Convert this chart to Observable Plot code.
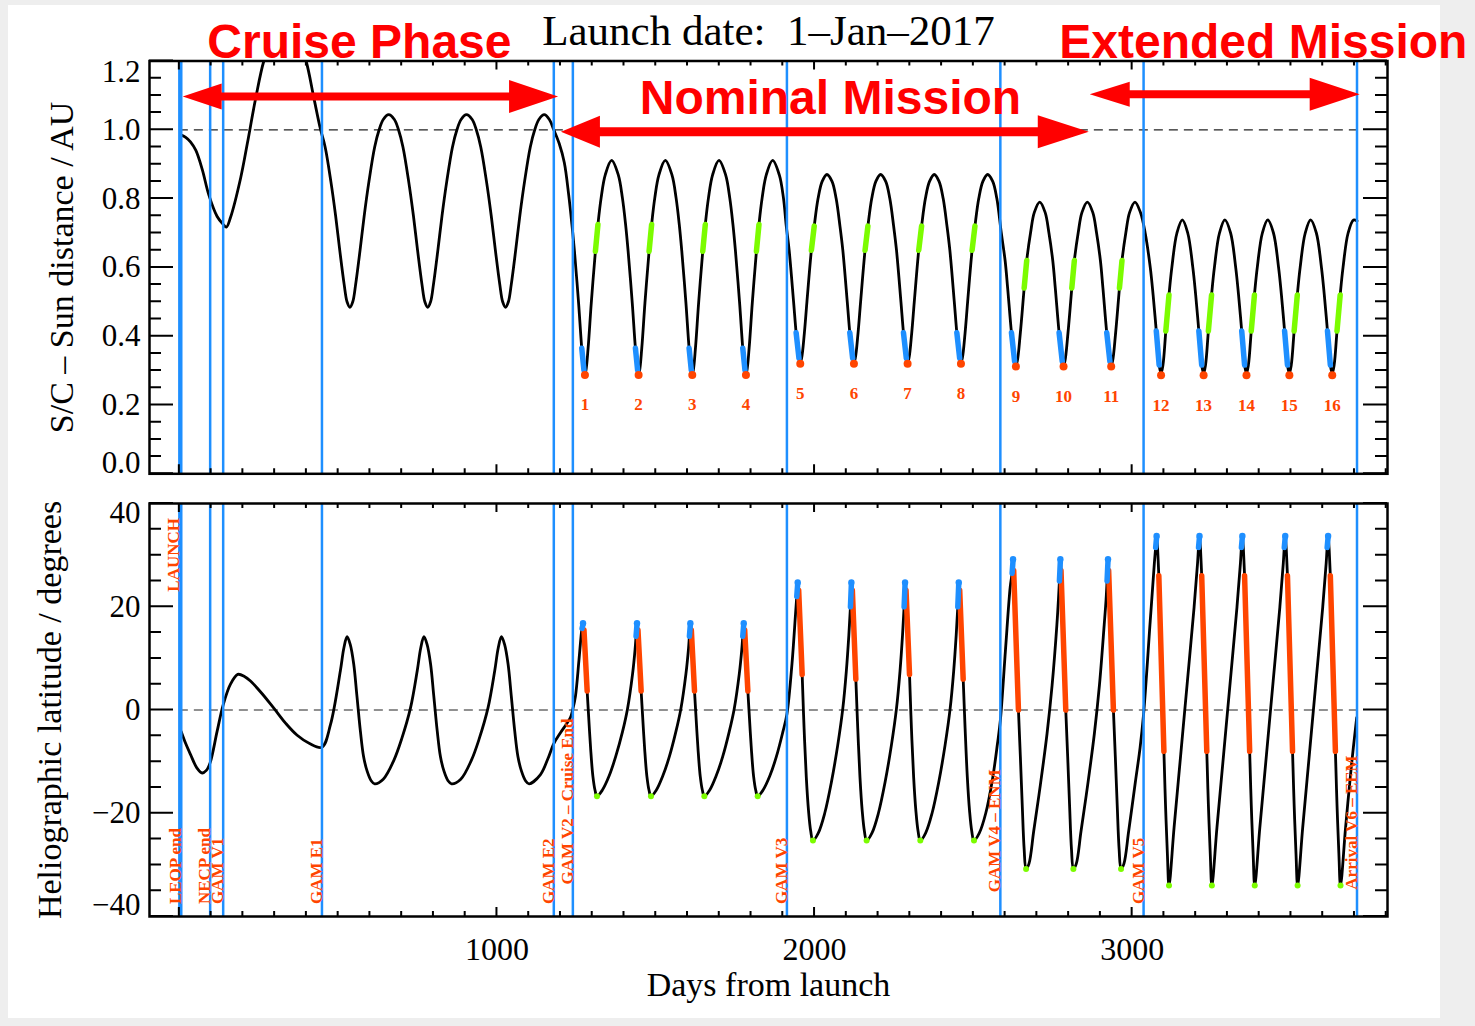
<!DOCTYPE html>
<html>
<head>
<meta charset="utf-8">
<script src="https://cdn.jsdelivr.net/npm/d3@7"></script>
<script src="https://cdn.jsdelivr.net/npm/@observablehq/plot@0.6"></script>
<style>
  html, body { margin: 0; padding: 0; background: #eeeeee; }
  #page { position: relative; width: 1475px; height: 1026px; overflow: hidden; }
  #sheet { position: absolute; left: 8px; top: 5px; width: 1432px; height: 1013px; background: #fff; }
  #top, #bottom { position: absolute; left: 0; width: 1475px; }
  #top { top: 0; }
  #bottom { top: 480px; }
</style>
</head>
<body>
<div id="page"><div id="sheet"></div><div id="top"></div><div id="bottom"></div></div>
<script>
// ---- Mission events (days from launch) ----
const eventNames = ["LAUNCH", "LEOP end", "NECP end", "GAM V1", "GAM E1", "GAM E2",
  "GAM V2 – Cruise End", "GAM V3", "GAM V4 – ENM", "GAM V5", "Arrival V6 – EEM"];
const eventDays = [0, 6, 97, 138, 449, 1179, 1239, 1913, 2585, 3036, 3708];

// ---- Mission phases ----
const phaseNames = ["Cruise Phase", "Nominal Mission", "Extended Mission"];
const phaseStart = [12, 1203, 2868];
const phaseEnd = [1194, 2865, 3718];

// ---- Spacecraft–Sun distance [day, AU] ----
const distancePoints = [
  [6,0.985],[20,0.978],[35,0.965],[52,0.94],[72,0.885],[93,0.81],[119,0.748],[138,0.725],[148,0.717],[161,0.745],
  [193,0.86],[214,0.96],[240,1.09],[266,1.2],[300,1.285],[333,1.31],[366,1.285],[399,1.2],[423,1.095],
  [444,1.003],[459,0.95],[477,0.85],[492,0.75],[505,0.65],[519,0.55],[528,0.50],[537,0.484],[546,0.50],
  [555,0.55],[569,0.65],[582,0.75],[597,0.85],[615,0.95],[629,1.0],[642,1.03],[659,1.044],[677,1.03],
  [690,1.0],[704,0.95],[722,0.85],[737,0.75],[750,0.65],[764,0.55],[773,0.50],[782,0.484],[791,0.50],
  [800,0.55],[814,0.65],[827,0.75],[842,0.85],[860,0.95],[874,1.0],[887,1.03],[904,1.044],[922,1.03],
  [935,1.0],[949,0.95],[967,0.85],[982,0.75],[995,0.65],[1009,0.55],[1018,0.50],[1027,0.484],[1036,0.50],
  [1045,0.55],[1059,0.65],[1072,0.75],[1087,0.85],[1105,0.95],[1119,1.0],[1132,1.03],[1149,1.044],
  [1165,1.03],[1179,1.0],[1196,0.96],[1212,0.905],[1226,0.81],
  [1236,0.725],[1244,0.647],[1257,0.497],[1267,0.365],[1274,0.300],[1277,0.293],[1280,0.300],[1287,0.365],
  [1297,0.497],[1310,0.647],[1318,0.725],[1328,0.802],[1341,0.869],[1361,0.911],
  [1382,0.869],[1395,0.802],[1405,0.725],[1413,0.647],[1426,0.497],[1436,0.365],[1443,0.300],[1446,0.293],
  [1449,0.300],[1456,0.365],[1466,0.497],[1479,0.647],[1487,0.725],[1497,0.802],[1510,0.869],[1530,0.911],
  [1551,0.869],[1564,0.802],[1574,0.725],[1582,0.647],[1595,0.497],[1605,0.365],[1612,0.300],[1615,0.293],
  [1618,0.300],[1625,0.365],[1635,0.497],[1648,0.647],[1656,0.725],[1666,0.802],[1679,0.869],[1699,0.911],
  [1720,0.869],[1733,0.802],[1743,0.725],[1751,0.647],[1764,0.497],[1774,0.365],[1781,0.300],[1784,0.293],
  [1787,0.300],[1794,0.365],[1804,0.497],[1817,0.647],[1825,0.725],[1835,0.802],[1848,0.869],[1868,0.911],
  [1889,0.869],[1902,0.802],
  [1911,0.72],[1920,0.65],[1934,0.50],[1942,0.41],[1951,0.335],[1955,0.326],[1959,0.335],[1968,0.41],
  [1976,0.50],[1990,0.65],[1999,0.72],[2011,0.80],[2024,0.85],[2039,0.87],
  [2055,0.85],[2068,0.80],[2080,0.72],[2089,0.65],[2103,0.50],[2111,0.41],[2120,0.335],[2124,0.326],
  [2128,0.335],[2137,0.41],[2145,0.50],[2159,0.65],[2168,0.72],[2180,0.80],[2193,0.85],[2208,0.87],
  [2224,0.85],[2237,0.80],[2249,0.72],[2258,0.65],[2272,0.50],[2280,0.41],[2289,0.335],[2293,0.326],
  [2297,0.335],[2306,0.41],[2314,0.50],[2328,0.65],[2337,0.72],[2349,0.80],[2362,0.85],[2377,0.87],
  [2392,0.85],[2405,0.80],[2417,0.72],[2426,0.65],[2440,0.50],[2448,0.41],[2457,0.335],[2461,0.326],
  [2465,0.335],[2474,0.41],[2482,0.50],[2496,0.65],[2505,0.72],[2517,0.80],[2530,0.85],[2545,0.87],
  [2561,0.85],[2574,0.80],
  [2588,0.70],[2600,0.62],[2608,0.54],[2620,0.41],[2630,0.326],[2634,0.318],[2638,0.326],[2648,0.41],
  [2660,0.54],[2668,0.62],[2680,0.70],[2692,0.76],[2709,0.79],
  [2726,0.76],[2738,0.70],[2750,0.62],[2758,0.54],[2770,0.41],[2780,0.326],[2784,0.318],[2788,0.326],
  [2798,0.41],[2810,0.54],[2818,0.62],[2830,0.70],[2842,0.76],[2859,0.79],
  [2876,0.76],[2888,0.70],[2900,0.62],[2908,0.54],[2920,0.41],[2930,0.326],[2934,0.318],[2938,0.326],
  [2948,0.41],[2960,0.54],[2968,0.62],[2980,0.70],[2992,0.76],[3009,0.79],
  [3026,0.76],
  [3041,0.70],[3057,0.60],[3066,0.52],[3076,0.415],[3085,0.316],[3091,0.292],[3097,0.316],[3106,0.415],
  [3116,0.52],[3125,0.60],[3141,0.70],[3158,0.738],
  [3175,0.70],[3191,0.60],[3200,0.52],[3210,0.415],[3219,0.316],[3225,0.292],[3231,0.316],[3240,0.415],
  [3250,0.52],[3259,0.60],[3275,0.70],[3292,0.738],
  [3310,0.70],[3326,0.60],[3335,0.52],[3345,0.415],[3354,0.316],[3360,0.292],[3366,0.316],[3375,0.415],
  [3385,0.52],[3394,0.60],[3410,0.70],[3427,0.738],
  [3445,0.70],[3461,0.60],[3470,0.52],[3480,0.415],[3489,0.316],[3495,0.292],[3501,0.316],[3510,0.415],
  [3520,0.52],[3529,0.60],[3545,0.70],[3562,0.738],
  [3580,0.70],[3596,0.60],[3605,0.52],[3615,0.415],[3624,0.316],[3630,0.292],[3636,0.316],[3645,0.415],
  [3655,0.52],[3664,0.60],[3680,0.70],[3697,0.738],[3708,0.735]
];

// Perihelion passes (days) and highlighted arcs of the distance curve [from, to]
const periDays = [1277,1446,1615,1784,1955,2124,2293,2461,2634,2784,2934,3091,3225,3360,3495,3630];
const inboundArcs = [[1267,1274],[1436,1443],[1605,1612],[1774,1781],[1942,1951],[2111,2120],[2280,2289],
  [2448,2457],[2620,2630],[2770,2780],[2920,2930],[3076,3085],[3210,3219],[3345,3354],[3480,3489],[3615,3624]];
const outboundArcs = [[1310,1318],[1479,1487],[1648,1656],[1817,1825],[1990,1999],[2159,2168],[2328,2337],
  [2496,2505],[2660,2668],[2810,2818],[2960,2968],[3106,3116],[3240,3250],[3375,3385],[3510,3520],[3645,3655]];

// ---- Heliographic latitude [day, degrees] ----
const latitudePoints = [
  [6,-4.2],[20,-6.5],[35,-8.6],[55,-11.2],[72,-12.2],[85,-11.7],[97,-10.2],[119,-4.1],[138,1.0],[161,5.0],
  [184,6.9],[205,6.5],[224,5.6],[260,3.2],[298,0.3],[335,-2.6],[371,-4.9],[410,-6.5],[449,-7.2],[476,-2.8],
  [507,7.6],[518,12.0],[528,14.2],[538,12.7],[549,8.9],[559,2.8],[570,-4.1],[580,-9.0],[591,-11.8],
  [604,-13.7],[615,-14.3],[642,-13.4],[675,-9.8],[700,-5.6],[728,0.45],[749,7.6],[760,12.0],[770,14.2],
  [780,12.7],[791,8.9],[801,2.8],[812,-4.1],[822,-9.0],[833,-11.8],[846,-13.7],[857,-14.3],[886,-13.4],
  [919,-9.8],[944,-5.6],[972,0.45],[993,7.6],[1004,12.0],[1014,14.2],[1024,12.7],[1035,8.9],[1045,2.8],
  [1056,-4.1],[1066,-9.0],[1077,-11.8],[1090,-13.7],[1101,-14.3],[1137,-12.5],[1160,-9.5],[1179,-6.5],
  [1200,-4.4],[1231,-1.5],[1239,0.2],[1247,2.6],[1258,9.5],[1266,15.0],[1268,15.8],[1271,16.6],
  [1274,15.5],[1284,3.7],[1288,-0.5],[1295,-7.5],[1302,-12.8],[1309,-15.6],[1315,-16.7],
  [1332,-15.5],[1353,-12.8],[1374,-9.0],[1395,-4.3],[1411,0.2],[1427,7.0],[1435,11.8],[1438,14.3],[1441,16.6],
  [1444,15.5],[1454,3.7],[1458,-0.5],[1465,-7.5],[1472,-12.8],[1479,-15.6],[1485,-16.7],
  [1502,-15.5],[1522,-12.8],[1543,-9.0],[1563,-4.3],[1579,0.2],[1595,7.0],[1603,11.8],[1606,14.3],[1609,16.6],
  [1612,15.5],[1622,3.7],[1626,-0.5],[1633,-7.5],[1640,-12.8],[1647,-15.6],[1653,-16.7],
  [1670,-15.5],[1690,-12.8],[1711,-9.0],[1731,-4.3],[1747,0.2],[1763,7.0],[1771,11.8],[1774,14.3],[1777,16.6],
  [1780,15.5],[1790,3.7],[1794,-0.5],[1801,-7.5],[1808,-12.8],[1815,-15.6],[1821,-16.7],
  [1838,-15.5],[1859,-12.8],[1880,-9.0],[1900,-4.3],[1913,-0.8],[1929,9.0],[1940,18.5],[1944,22.0],[1947,24.5],
  [1950,23.2],[1961,6.9],[1967,-3.5],[1974,-13.0],[1981,-19.5],[1988,-23.5],[1995,-25.3],
  [2012,-23.8],[2032,-20.0],[2053,-14.0],[2073,-6.8],[2089,0.3],[2100,7.5],[2108,14.5],[2113,20.0],[2116,24.5],
  [2119,23.2],[2130,6.0],[2136,-3.5],[2143,-13.0],[2150,-19.5],[2157,-23.5],[2164,-25.3],
  [2181,-23.8],[2201,-20.0],[2222,-14.0],[2242,-6.8],[2258,0.3],[2269,7.5],[2277,14.5],[2282,20.0],[2285,24.5],
  [2288,23.2],[2299,6.9],[2305,-3.5],[2312,-13.0],[2319,-19.5],[2326,-23.5],[2333,-25.3],
  [2350,-23.8],[2370,-20.0],[2391,-14.0],[2411,-6.8],[2427,0.3],[2438,7.5],[2446,14.5],[2451,20.0],[2454,24.5],
  [2457,23.2],[2468,6.0],[2474,-3.5],[2481,-13.0],[2488,-19.5],[2495,-23.5],[2502,-25.3],
  [2519,-23.8],[2539,-20.0],[2560,-13.5],[2576,-6.5],[2585,-2.0],[2601,11.5],[2616,23.8],[2622,26.5],[2625,29.0],
  [2627,27.0],[2642,0.0],[2648,-9.0],[2654,-18.5],[2660,-27.0],[2666,-30.8],
  [2675,-29.8],[2690,-23.5],[2711,-14.5],[2732,-4.6],[2748,4.8],[2763,16.5],[2768,21.5],[2771,25.0],[2774,29.0],
  [2776,27.0],[2791,0.0],[2797,-9.0],[2803,-18.5],[2809,-27.0],[2815,-30.8],
  [2824,-29.8],[2839,-23.5],[2860,-14.5],[2881,-4.6],[2897,4.8],[2912,16.5],[2918,21.5],[2921,25.0],[2924,29.0],
  [2926,27.0],[2941,0.0],[2947,-9.0],[2953,-18.5],[2959,-27.0],[2965,-30.8],
  [2974,-29.8],[2989,-23.5],[3010,-14.0],[3025,-7.3],[3036,-0.8],[3057,17.3],[3070,28.5],[3074,31.5],[3077,33.5],
  [3084,26.0],[3100,-8.0],[3105,-18.3],[3111,-28.0],[3116,-34.0],
  [3132,-22.8],[3153,-8.6],[3174,5.6],[3195,19.9],[3206,28.5],[3209,31.5],[3212,33.5],
  [3219,26.0],[3235,-8.0],[3240,-18.3],[3246,-28.0],[3251,-34.0],
  [3267,-22.8],[3288,-8.6],[3309,5.6],[3330,19.9],[3341,28.5],[3344,31.5],[3347,33.5],
  [3354,26.0],[3370,-8.0],[3375,-18.3],[3381,-28.0],[3386,-34.0],
  [3402,-22.8],[3423,-8.6],[3444,5.6],[3465,19.9],[3476,28.5],[3479,31.5],[3482,33.5],
  [3489,26.0],[3505,-8.0],[3510,-18.3],[3516,-28.0],[3521,-34.0],
  [3537,-22.8],[3558,-8.6],[3579,5.6],[3600,19.9],[3611,28.5],[3614,31.5],[3617,33.5],
  [3624,26.0],[3640,-8.0],[3645,-18.3],[3651,-28.0],[3656,-34.0],
  [3672,-22.8],[3690,-11.0],[3707,-1.5]
];

// Latitude maxima / minima (days) and highlighted arcs [from, to]
const latMaxDays = [1271,1441,1609,1777,1947,2116,2285,2454,2625,2774,2924,3077,3212,3347,3482,3617];
const latMinDays = [1315,1485,1653,1821,1995,2164,2333,2502,2666,2815,2965,3116,3251,3386,3521,3656];
const nearMaxArcs = [[1268,1271],[1438,1441],[1606,1609],[1774,1777],[1944,1947],[2113,2116],[2282,2285],
  [2451,2454],[2622,2625],[2771,2774],[2921,2924],[3074,3077],[3209,3212],[3344,3347],[3479,3482],[3614,3617]];
const descentArcs = [[1274,1284],[1444,1454],[1612,1622],[1780,1790],[1950,1961],[2119,2130],[2288,2299],
  [2457,2468],[2627,2642],[2776,2791],[2926,2941],[3084,3100],[3219,3235],[3354,3370],[3489,3505],[3624,3640]];

// ---- Axis ticks and labels ----
const dayTicks = [1000, 2000, 3000];
const dayTickLabels = ["1000", "2000", "3000"];
const distanceTicks = [0, 0.2, 0.4, 0.6, 0.8, 1.0, 1.2];
const distanceTickLabels = ["0.0", "0.2", "0.4", "0.6", "0.8", "1.0", "1.2"];
const latitudeTicks = [-40, -20, 0, 20, 40];
const latitudeTickLabels = ["−40", "−20", "0", "20", "40"];

// ---------------------------------------------------------------------------
const SERIF = "'Liberation Serif', 'Times New Roman', serif";
const SANS = "'Liberation Sans', Arial, sans-serif";
const BLUE = "#1e8fff", ORANGE = "#ff4500", GREEN = "#7cfc00", RED = "#ff0000";
const CURVE = "catmull-rom";
const xDomain = [-94, 3804];

// rows of the curve that fall inside each [from, to] range, tagged by range
function arcRows(points, ranges) {
  return ranges.flatMap(([a, b], seg) =>
    points.filter(([d]) => d >= a && d <= b).map(([day, value]) => ({day, value, seg})));
}

// inward ticks on all four sides of the frame
function frameTicks({xMajor, xMinor, yMajor, yMinor}) {
  return (index, {x, y}, values, {width, height, marginTop, marginRight, marginBottom, marginLeft}) => {
    const L = marginLeft, R = width - marginRight, T = marginTop, B = height - marginBottom;
    let d = "";
    for (const v of xMajor) d += `M${x(v)},${B}v-9M${x(v)},${T}v9`;
    for (const v of xMinor) d += `M${x(v)},${B}v-5M${x(v)},${T}v5`;
    for (const v of yMajor) d += `M${L},${y(v)}h24M${R},${y(v)}h-24`;
    for (const v of yMinor) d += `M${L},${y(v)}h12M${R},${y(v)}h-12`;
    return d3.create("svg:path").attr("d", d).attr("fill", "none")
      .attr("stroke", "black").attr("stroke-width", 2).node();
  };
}

// double-headed phase arrows
const phaseLayout = [
  {level: 1.095, shaft: 8, left: [39, 13], right: [49, 16.5], labelDay: 567, labelAU: 1.21},
  {level: 0.993, shaft: 9, left: [39, 16], right: [51, 16.5], labelDay: 2050, labelAU: 1.047},
  {level: 1.102, shaft: 8, left: [40, 12.5], right: [50, 16.5], labelDay: 3413, labelAU: 1.21}
];
function phaseArrows(index, {x, y}) {
  const g = d3.create("svg:g").attr("fill", RED);
  phaseNames.forEach((name, i) => {
    const {level, shaft, left, right} = phaseLayout[i];
    const x1 = x(phaseStart[i]), x2 = x(phaseEnd[i]), c = y(level), t = shaft / 2;
    const pts = [[x1, c], [x1 + left[0], c - left[1]], [x1 + left[0], c - t], [x2 - right[0], c - t],
      [x2 - right[0], c - right[1]], [x2, c], [x2 - right[0], c + right[1]], [x2 - right[0], c + t],
      [x1 + left[0], c + t], [x1 + left[0], c + left[1]]];
    g.append("polygon").attr("points", pts.map(p => p.join(",")).join(" "));
  });
  return g.node();
}

const xMinor = d3.range(0, 3801, 100).filter(v => v % 1000 !== 0);
const xMajor = [0, 1000, 2000, 3000];
const distAt = new Map(distancePoints);
const latAt = new Map(latitudePoints);
const events = eventNames.map((name, i) => ({name, day: eventDays[i]}));
const labelLat = {"LAUNCH": 37.2, "GAM V2 – Cruise End": -33.8, "GAM V4 – ENM": -35.3, "Arrival V6 – EEM": -34.8};

// ---------------- top panel: distance ----------------
const topPlot = Plot.plot({
  width: 1475, height: 480,
  marginTop: 60.5, marginBottom: 6.7, marginLeft: 149, marginRight: 88,
  style: {background: "transparent", overflow: "visible", fontFamily: SERIF},
  x: {domain: xDomain, axis: null},
  y: {domain: [0, 1.2], axis: null},
  marks: [
    Plot.ruleY([1], {x1: eventDays[0], x2: eventDays[eventDays.length - 1], stroke: "#222", strokeWidth: 1.2, strokeDasharray: "9,6"}),
    Plot.line(distancePoints, {x: d => d[0], y: d => d[1], curve: CURVE, stroke: "black", strokeWidth: 2.8, clip: true}),
    Plot.ruleX(eventDays, {stroke: BLUE, strokeWidth: 2.5}),
    Plot.line(arcRows(distancePoints, inboundArcs), {x: "day", y: "value", z: "seg", curve: CURVE, stroke: BLUE, strokeWidth: 5.5}),
    Plot.line(arcRows(distancePoints, outboundArcs), {x: "day", y: "value", z: "seg", curve: CURVE, stroke: GREEN, strokeWidth: 5.5}),
    Plot.dot(periDays, {x: d => d, y: d => distAt.get(d), r: 4, fill: ORANGE, dy: 2}),
    Plot.text(periDays, {x: d => d, y: d => distAt.get(d), text: (d, i) => String(i + 1), dy: 32,
      fill: ORANGE, fontSize: 17, fontWeight: "bold", fontFamily: SERIF}),
    frameTicks({xMajor, xMinor, yMajor: distanceTicks, yMinor: d3.range(0.05, 1.2, 0.05).filter((v, i) => (i + 1) % 4 !== 0)}),
    Plot.frame({stroke: "black", strokeWidth: 2.5}),
    Plot.text(distanceTicks.slice(1, -1), {y: d => d, text: d => distanceTickLabels[distanceTicks.indexOf(d)],
      frameAnchor: "left", textAnchor: "end", dx: -9, fontSize: 31, fontFamily: SERIF, fill: "black"}),
    Plot.text([distanceTicks[0]], {y: d => d, text: [distanceTickLabels[0]], frameAnchor: "left", textAnchor: "end",
      dx: -9, dy: -11, fontSize: 31, fontFamily: SERIF, fill: "black"}),
    Plot.text([distanceTicks[distanceTicks.length - 1]], {y: d => d, text: [distanceTickLabels[distanceTickLabels.length - 1]],
      frameAnchor: "left", textAnchor: "end", dx: -9, dy: 11, fontSize: 31, fontFamily: SERIF, fill: "black"}),
    Plot.text(["S/C – Sun distance / AU"], {frameAnchor: "left", rotate: -90, dx: -77, lineAnchor: "bottom",
      textAnchor: "middle", fontSize: 34, fontFamily: SERIF, fill: "black"}),
    Plot.text(["Launch date:\u00a0 1–Jan–2017"], {frameAnchor: "top", lineAnchor: "bottom", dy: -16.5,
      fontSize: 43, fontFamily: SERIF, fill: "black"}),
    phaseArrows,
    Plot.text(phaseNames, {x: (d, i) => phaseLayout[i].labelDay, y: (d, i) => phaseLayout[i].labelAU,
      text: d => d, lineAnchor: "bottom", fontSize: 48, fontWeight: "bold", fontFamily: SANS, fill: RED})
  ]
});
document.getElementById("top").append(topPlot);

// ---------------- bottom panel: latitude ----------------
const bottomPlot = Plot.plot({
  width: 1475, height: 546,
  marginTop: 23, marginBottom: 110, marginLeft: 149, marginRight: 88,
  style: {background: "transparent", overflow: "visible", fontFamily: SERIF},
  x: {domain: xDomain, axis: null},
  y: {domain: [-40, 40], axis: null},
  marks: [
    Plot.ruleY([0], {x1: eventDays[0], x2: eventDays[eventDays.length - 1], stroke: "#222", strokeWidth: 1.2, strokeDasharray: "9,6"}),
    Plot.line(latitudePoints, {x: d => d[0], y: d => d[1], curve: CURVE, stroke: "black", strokeWidth: 2.8, clip: true}),
    Plot.ruleX(eventDays, {stroke: BLUE, strokeWidth: 2.5}),
    Plot.line(arcRows(latitudePoints, descentArcs), {x: "day", y: "value", z: "seg", curve: CURVE, stroke: ORANGE, strokeWidth: 5.5}),
    Plot.line(arcRows(latitudePoints, nearMaxArcs), {x: "day", y: "value", z: "seg", curve: CURVE, stroke: BLUE, strokeWidth: 5.5, strokeLinecap: "round"}),
    Plot.dot(latMaxDays, {x: d => d, y: d => latAt.get(d), r: 3.2, fill: BLUE, dy: -1}),
    Plot.dot(latMinDays, {x: d => d, y: d => latAt.get(d), r: 3, fill: GREEN}),
    Plot.text(events.filter(e => e.name === "LAUNCH"), {x: "day", y: d => labelLat[d.name], text: "name",
      rotate: -90, textAnchor: "end", lineAnchor: "bottom", fontSize: 17, fontWeight: "bold", fontFamily: SERIF, fill: ORANGE}),
    Plot.text(events.filter(e => e.name !== "LAUNCH"), {x: "day", y: d => labelLat[d.name] ?? -37.6, text: "name",
      rotate: -90, textAnchor: "start", lineAnchor: "bottom", fontSize: 17, fontWeight: "bold", fontFamily: SERIF, fill: ORANGE}),
    frameTicks({xMajor, xMinor, yMajor: latitudeTicks, yMinor: d3.range(-35, 40, 5).filter(v => v % 20 !== 0)}),
    Plot.frame({stroke: "black", strokeWidth: 2.5}),
    Plot.text(latitudeTicks.slice(1, -1), {y: d => d, text: d => latitudeTickLabels[latitudeTicks.indexOf(d)],
      frameAnchor: "left", textAnchor: "end", dx: -9, fontSize: 31, fontFamily: SERIF, fill: "black"}),
    Plot.text([latitudeTicks[0]], {y: d => d, text: [latitudeTickLabels[0]], frameAnchor: "left", textAnchor: "end",
      dx: -9, dy: -11, fontSize: 31, fontFamily: SERIF, fill: "black"}),
    Plot.text([latitudeTicks[latitudeTicks.length - 1]], {y: d => d, text: [latitudeTickLabels[latitudeTickLabels.length - 1]],
      frameAnchor: "left", textAnchor: "end", dx: -9, dy: 10, fontSize: 31, fontFamily: SERIF, fill: "black"}),
    Plot.text(dayTicks, {x: d => d, text: (d, i) => dayTickLabels[i], frameAnchor: "bottom", lineAnchor: "bottom",
      dy: 43, fontSize: 32, fontFamily: SERIF, fill: "black"}),
    Plot.text(["Heliographic latitude / degrees"], {frameAnchor: "left", rotate: -90, dx: -89, lineAnchor: "bottom",
      textAnchor: "middle", fontSize: 34, fontFamily: SERIF, fill: "black"}),
    Plot.text(["Days from launch"], {frameAnchor: "bottom", lineAnchor: "bottom", dy: 79,
      fontSize: 34, fontFamily: SERIF, fill: "black"})
  ]
});
document.getElementById("bottom").append(bottomPlot);
</script>
</body>
</html>
